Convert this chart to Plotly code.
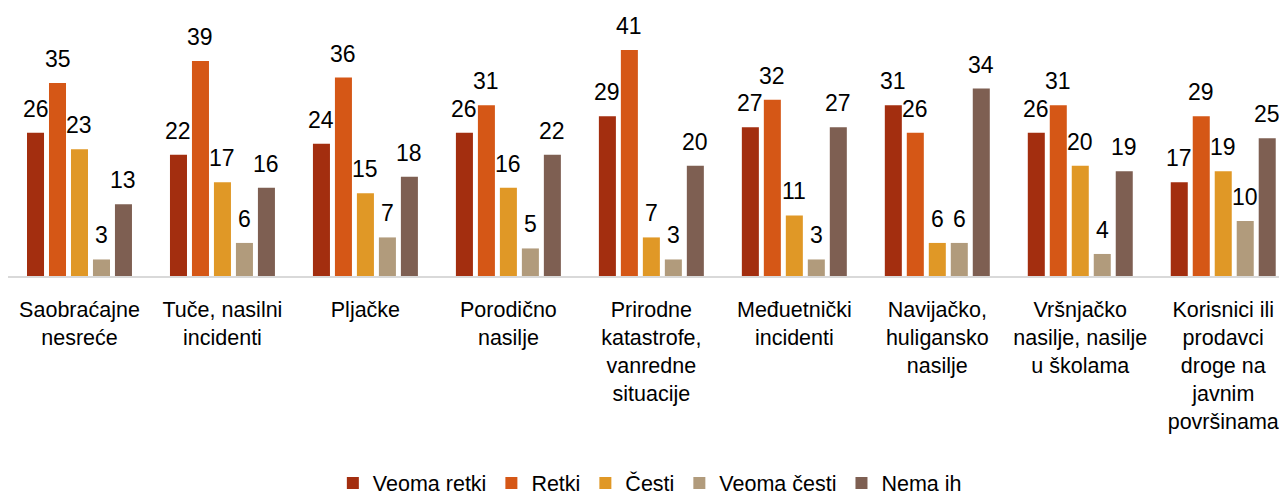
import plotly.graph_objects as go

categories = [
    "Saobraćajne<br>nesreće",
    "Tuče, nasilni<br>incidenti",
    "Pljačke",
    "Porodično<br>nasilje",
    "Prirodne<br>katastrofe,<br>vanredne<br>situacije",
    "Međuetnički<br>incidenti",
    "Navijačko,<br>huligansko<br>nasilje",
    "Vršnjačko<br>nasilje, nasilje<br>u školama",
    "Korisnici ili<br>prodavci<br>droge na<br>javnim<br>površinama",
]
series_names = ["Veoma retki", "Retki", "Česti", "Veoma česti", "Nema ih"]
veoma_retki = [26, 22, 24, 26, 29, 27, 31, 26, 17]
retki = [35, 39, 36, 31, 41, 32, 26, 31, 29]
cesti = [23, 17, 15, 16, 7, 11, 6, 20, 19]
veoma_cesti = [3, 6, 7, 5, 3, 3, 6, 4, 10]
nema_ih = [13, 16, 18, 22, 20, 27, 34, 19, 25]
series_values = [veoma_retki, retki, cesti, veoma_cesti, nema_ih]
colors = ["#A32E0F", "#D55716", "#E09826", "#B19B7C", "#7E5F52"]

BARGAP = 0.231
BARGROUPGAP = 0.226
MAIN_FONT = "Liberation Sans, Arial, sans-serif"

fig = go.Figure()
for name, vals, col in zip(series_names, series_values, colors):
    fig.add_trace(go.Bar(x=categories, y=vals, name=name, marker_color=col,
                         marker_line_width=0, hoverinfo="skip"))

n = len(series_names)
slot = (1 - BARGAP) / n
annotations = []
for i, vals in enumerate(series_values):
    for j, v in enumerate(vals):
        annotations.append(dict(
            x=j + (i - (n - 1) / 2) * slot, y=v, xref="x", yref="y",
            text=str(v), showarrow=False, yanchor="bottom", xanchor="center",
            yshift=9, font=dict(family=MAIN_FONT, size=23, color="#000000"),
        ))

fig.update_layout(
    width=1279, height=495,
    margin=dict(l=8, r=0, t=28, b=219, autoexpand=False),
    barmode="group", bargap=BARGAP, bargroupgap=BARGROUPGAP,
    paper_bgcolor="white", plot_bgcolor="white",
    font=dict(family=MAIN_FONT, size=22, color="#000000"),
    showlegend=True,
    legend=dict(orientation="h", x=0.505, xanchor="center", y=-0.835, yanchor="middle",
                font=dict(family=MAIN_FONT, size=21.5, color="#000000"),
                itemclick=False, itemdoubleclick=False, tracegroupgap=0),
    annotations=annotations,
)
fig.update_xaxes(range=[-0.5, 8.39], showline=True, linecolor="#D9D9D9", linewidth=2,
                 ticks="", showgrid=False, zeroline=False, ticklabelstandoff=13,
                 tickfont=dict(family=MAIN_FONT, size=21.5, color="#000000"))
fig.update_yaxes(range=[0, 45], visible=False, showgrid=False, zeroline=False)

fig.write_html(
    "out.html",
    config={"displayModeBar": False},
    post_script="document.documentElement.style.overflow='hidden';"
                "document.body.style.overflow='hidden';"
                "document.body.style.margin='0';",
)
